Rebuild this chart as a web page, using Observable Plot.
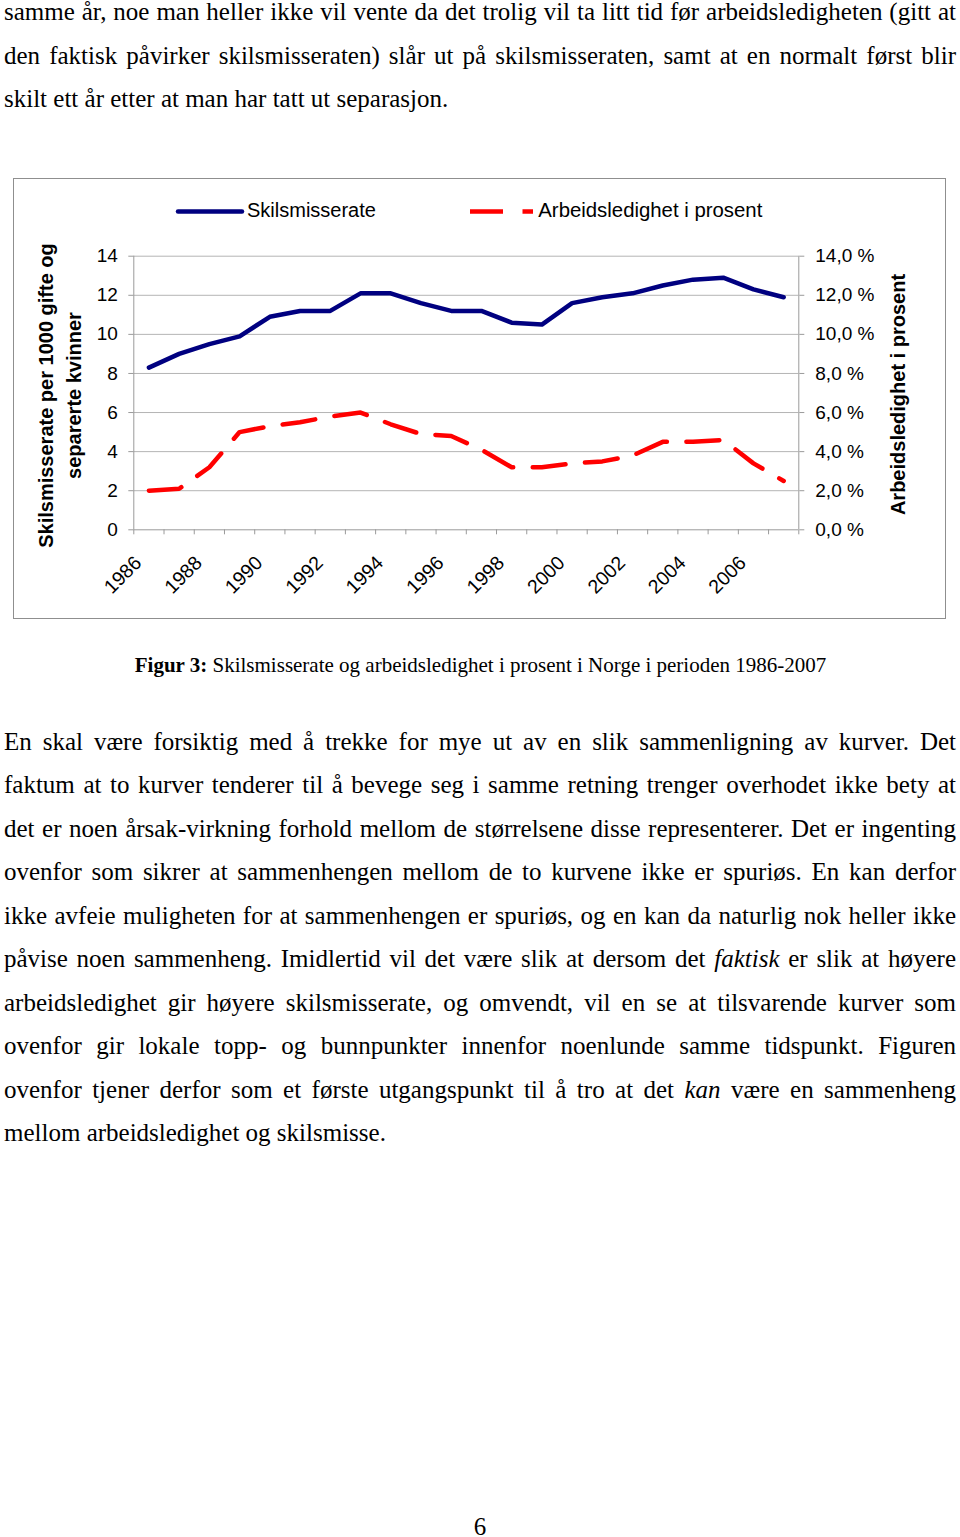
<!DOCTYPE html>
<html><head><meta charset="utf-8">
<script src="https://cdn.jsdelivr.net/npm/d3@7"></script>
<script src="https://cdn.jsdelivr.net/npm/@observablehq/plot@0.6"></script>
<style>
html,body{margin:0;padding:0;background:#fff}
body{width:960px;height:1537px;position:relative;overflow:hidden;font-family:"Liberation Serif","Times New Roman",serif;color:#000}
.p{position:absolute;left:4px;width:952px;font-size:25px;line-height:43.5px}
.p div{text-align:justify;text-align-last:justify;white-space:nowrap}
.p div.last{text-align:left;text-align-last:left}
#frame{position:absolute;left:13px;top:178px;width:931px;height:439px;border:1px solid #8f8f8f;box-sizing:content-box}
#legend{position:absolute;left:0;top:190px}
#chart{position:absolute;left:14px;top:228px}
#caption{position:absolute;left:0;width:961px;top:655.4px;font-size:21px;line-height:21px;text-align:center;white-space:nowrap}
#pagenum{position:absolute;left:0;width:960px;top:1519px;font-size:25px;line-height:16px;height:16px;text-align:center}
</style>
</head><body>
<div class="p" style="top:-9.7px">
<div>samme år, noe man heller ikke vil vente da det trolig vil ta litt tid før arbeidsledigheten (gitt at</div>
<div>den faktisk påvirker skilsmisseraten) slår ut på skilsmisseraten, samt at en normalt først blir</div>
<div class="last">skilt ett år etter at man har tatt ut separasjon.</div>
</div>

<div id="frame"></div>
<svg id="legend" width="960" height="40" font-family="Liberation Sans, Arial, sans-serif" font-size="20">
<line x1="178" x2="242" y1="21.5" y2="21.5" stroke="#000080" stroke-width="4.5" stroke-linecap="round"/>
<text x="247" y="27.3" fill="#000">Skilsmisserate</text>
<line x1="470" x2="533" y1="21.5" y2="21.5" stroke="#ff0000" stroke-width="4.5" stroke-dasharray="33,19.5"/>
<text x="538.3" y="27.3" fill="#000" textLength="224" lengthAdjust="spacingAndGlyphs">Arbeidsledighet i prosent</text>
</svg>
<div id="chart"></div>

<div id="caption"><b>Figur 3:</b> Skilsmisserate og arbeidsledighet i prosent i Norge i perioden 1986-2007</div>

<div class="p" style="top:719.8px">
<div>En skal være forsiktig med å trekke for mye ut av en slik sammenligning av kurver. Det</div>
<div>faktum at to kurver tenderer til å bevege seg i samme retning trenger overhodet ikke bety at</div>
<div>det er noen årsak-virkning forhold mellom de størrelsene disse representerer. Det er ingenting</div>
<div>ovenfor som sikrer at sammenhengen mellom de to kurvene ikke er spuriøs. En kan derfor</div>
<div>ikke avfeie muligheten for at sammenhengen er spuriøs, og en kan da naturlig nok heller ikke</div>
<div>påvise noen sammenheng. Imidlertid vil det være slik at dersom det <i>faktisk</i> er slik at høyere</div>
<div>arbeidsledighet gir høyere skilsmisserate, og omvendt, vil en se at tilsvarende kurver som</div>
<div>ovenfor gir lokale topp- og bunnpunkter innenfor noenlunde samme tidspunkt. Figuren</div>
<div>ovenfor tjener derfor som et første utgangspunkt til å tro at det <i>kan</i> være en sammenheng</div>
<div class="last">mellom arbeidsledighet og skilsmisse.</div>
</div>

<div id="pagenum">6</div>

<script>
const years = [1986,1987,1988,1989,1990,1991,1992,1993,1994,1995,1996,1997,1998,1999,2000,2001,2002,2003,2004,2005,2006,2007];
const skilsmisserate = [8.3,9.0,9.5,9.9,10.9,11.2,11.2,12.1,12.1,11.6,11.2,11.2,10.6,10.5,11.6,11.9,12.1,12.5,12.8,12.9,12.3,11.9];
const arbeidsledighet = [2.0,2.1,3.2,5.0,5.3,5.5,5.8,6.0,5.4,4.9,4.8,4.1,3.2,3.2,3.4,3.5,3.8,4.5,4.5,4.6,3.4,2.5];
const yTicks = [0,2,4,6,8,10,12,14];
const xLabelYears = [1986,1988,1990,1992,1994,1996,1998,2000,2002,2004,2006];
const leftTitle = "Skilsmisserate per 1000 gifte og\nseparerte kvinner";
const rightTitle = "Arbeidsledighet i prosent";

const rows = years.map((yr, i) => ({year: yr, rate: skilsmisserate[i], unemp: arbeidsledighet[i]}));
const boundaries = years.map(y => y - 0.5).concat([years[years.length - 1] + 0.5]);
const xDomain = [boundaries[0], boundaries[boundaries.length - 1]];

const axisGray = "#9a9a9a";
const gridGray = "#b4b4b4";

const chart = Plot.plot({
  width: 930,
  height: 389,
  marginLeft: 119.3,
  marginRight: 145.7,
  marginTop: 27.7,
  marginBottom: 87.7,
  style: {fontFamily: "Liberation Sans, Arial, sans-serif", fontSize: "19px", color: "#000", background: "transparent", overflow: "visible"},
  x: {type: "linear", domain: xDomain, axis: null},
  y: {type: "linear", domain: [0, 14], axis: null},
  marks: [
    Plot.gridY(yTicks.filter(d => d > 0), {stroke: gridGray, strokeOpacity: 1, strokeWidth: 1}),
    Plot.ruleY([0], {stroke: axisGray, strokeWidth: 1}),
    Plot.ruleX([xDomain[0]], {stroke: axisGray, strokeWidth: 1}),
    Plot.ruleX([xDomain[1]], {stroke: axisGray, strokeWidth: 1}),
    Plot.axisY(yTicks, {anchor: "left", tickSize: 5, tickPadding: 11, stroke: axisGray, fill: "#000", label: null, tickFormat: d => String(d)}),
    Plot.axisY(yTicks, {anchor: "right", tickSize: 5, tickPadding: 11.5, stroke: axisGray, fill: "#000", label: null, tickFormat: d => d.toFixed(1).replace(".", ",") + " %"}),
    Plot.axisX(boundaries, {anchor: "bottom", tickSize: 5, stroke: axisGray, label: null, tickFormat: () => ""}),
    Plot.text(xLabelYears, {x: d => d, frameAnchor: "bottom", text: d => String(d), rotate: -45, textAnchor: "end", lineAnchor: "top", dx: -16, dy: 24.5, fontSize: 19.5, fill: "#000"}),
    Plot.line(rows, {x: "year", y: "unemp", stroke: "#ff0000", strokeWidth: 4.5, strokeDasharray: "33,19.5", strokeLinejoin: "round"}),
    Plot.line(rows, {x: "year", y: "rate", stroke: "#000080", strokeWidth: 4.5, strokeLinejoin: "round", strokeLinecap: "round"}),
    Plot.text([leftTitle], {frameAnchor: "left", text: d => d, rotate: -90, dx: -75.5, dy: 2.5, fontWeight: "bold", fontSize: 20, lineHeight: 1.4, textAnchor: "middle", lineAnchor: "middle", fill: "#000"}),
    Plot.text([rightTitle], {frameAnchor: "right", text: d => d, rotate: -90, dx: 99.7, dy: 1.5, fontWeight: "bold", fontSize: 20, textAnchor: "middle", lineAnchor: "middle", fill: "#000"})
  ]
});
document.getElementById("chart").appendChild(chart);
</script>
</body></html>
